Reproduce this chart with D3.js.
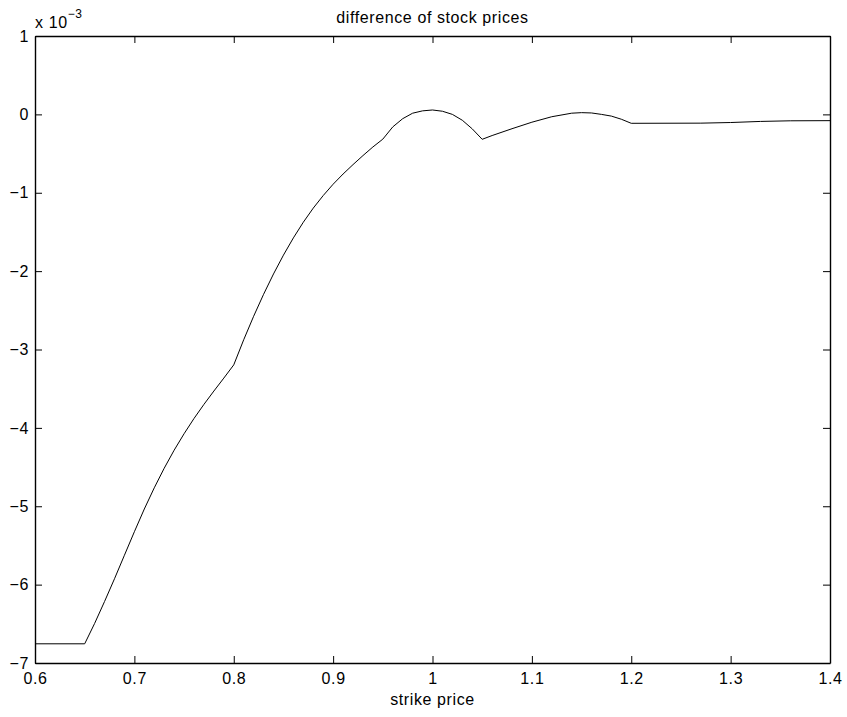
<!DOCTYPE html>
<html>
<head>
<meta charset="utf-8">
<script src="https://cdn.jsdelivr.net/npm/d3@7"></script>
<style>
  html, body { margin: 0; padding: 0; background: #fff; }
  svg { display: block; }
  text { font-family: "Liberation Sans", Arial, Helvetica, sans-serif; fill: #000; letter-spacing: 0.6px; }
</style>
</head>
<body>
<svg id="chart" width="847" height="717"></svg>
<script>
// strike price
const strike = [
  0.60, 0.65, 0.66, 0.67, 0.68, 0.69, 0.70, 0.71, 0.72, 0.73, 0.74, 0.75,
  0.76, 0.77, 0.78, 0.79, 0.80, 0.81, 0.82, 0.83, 0.84, 0.85, 0.86, 0.87,
  0.88, 0.89, 0.90, 0.91, 0.92, 0.93, 0.94, 0.95, 0.96, 0.97, 0.98, 0.99,
  1.00, 1.01, 1.02, 1.03, 1.04, 1.05, 1.06, 1.08, 1.10, 1.12, 1.14, 1.15,
  1.16, 1.17, 1.18, 1.19, 1.20, 1.27, 1.30, 1.33, 1.36, 1.40
];
// difference of stock prices, in units of 1e-3
const diff = [
  -6.755, -6.755, -6.495, -6.215, -5.925, -5.625, -5.325, -5.035, -4.765, -4.515, -4.285, -4.075,
  -3.88, -3.70, -3.53, -3.365, -3.196, -2.876, -2.576, -2.296, -2.036, -1.796, -1.576, -1.376,
  -1.196, -1.036, -0.891, -0.761, -0.641, -0.526, -0.416, -0.316, -0.16, -0.055, 0.015, 0.045,
  0.056, 0.040, 0.000, -0.075, -0.185, -0.318, -0.27, -0.183, -0.10, -0.03, 0.015, 0.022,
  0.018, 0.000, -0.022, -0.062, -0.114, -0.112, -0.104, -0.090, -0.082, -0.080
];

const xTicks = [0.6, 0.7, 0.8, 0.9, 1.0, 1.1, 1.2, 1.3, 1.4];
const xTickLabels = ["0.6", "0.7", "0.8", "0.9", "1", "1.1", "1.2", "1.3", "1.4"];
const yTicks = [-7, -6, -5, -4, -3, -2, -1, 0, 1];
const yTickLabels = ["\u22127", "\u22126", "\u22125", "\u22124", "\u22123", "\u22122", "\u22121", "0", "1"];

const svg = d3.select("#chart");
const plotL = 35, plotR = 830, plotT = 36, plotB = 663;
const fs = 16;

const x = d3.scaleLinear().domain([0.6, 1.4]).range([plotL, plotR]);
const y = d3.scaleLinear().domain([-7, 1]).range([plotB, plotT]);

function styleAxis(g) {
  g.select(".domain").attr("stroke", "#000").attr("stroke-width", 1.4);
  g.selectAll(".tick line").attr("stroke", "#000").attr("stroke-width", 1);
  g.selectAll(".tick text").attr("font-size", fs).attr("fill", "#000")
    .attr("font-family", "\"Liberation Sans\", Arial, Helvetica, sans-serif");
}

// bottom axis with labels, ticks pointing inward
svg.append("g").attr("transform", `translate(0,${plotB})`)
  .call(d3.axisBottom(x).tickValues(xTicks)
    .tickFormat((d, i) => xTickLabels[i]).tickSize(-7).tickSizeOuter(0).tickPadding(10))
  .call(styleAxis);

// top axis, ticks only
svg.append("g").attr("transform", `translate(0,${plotT})`)
  .call(d3.axisTop(x).tickValues(xTicks).tickFormat("").tickSize(-7).tickSizeOuter(0))
  .call(styleAxis);

// left axis with labels
svg.append("g").attr("transform", `translate(${plotL},0)`)
  .call(d3.axisLeft(y).tickValues(yTicks)
    .tickFormat((d, i) => yTickLabels[i]).tickSize(-7).tickSizeOuter(0).tickPadding(6))
  .call(styleAxis);

// right axis, ticks only
svg.append("g").attr("transform", `translate(${plotR},0)`)
  .call(d3.axisRight(y).tickValues(yTicks).tickFormat("").tickSize(-7).tickSizeOuter(0))
  .call(styleAxis);

// the curve
const pts = strike.map((s, i) => [s, diff[i]]);
svg.append("path")
  .datum(pts)
  .attr("fill", "none")
  .attr("stroke", "#000")
  .attr("stroke-width", 1)
  .attr("stroke-linejoin", "round")
  .attr("d", d3.line().x(d => x(d[0])).y(d => y(d[1])));

// scale factor label
const sf = svg.append("text").attr("x", plotL).attr("y", 28).attr("font-size", fs);
sf.append("tspan").text("x 10");
sf.append("tspan").attr("dy", -10).attr("font-size", 12).text("\u22123");

// title
svg.append("text")
  .attr("x", (plotL + plotR) / 2).attr("y", 23)
  .attr("text-anchor", "middle").attr("font-size", fs)
  .text("difference of stock prices");

// x axis label
svg.append("text")
  .attr("x", (plotL + plotR) / 2).attr("y", 705)
  .attr("text-anchor", "middle").attr("font-size", fs)
  .text("strike price");
</script>
</body>
</html>
